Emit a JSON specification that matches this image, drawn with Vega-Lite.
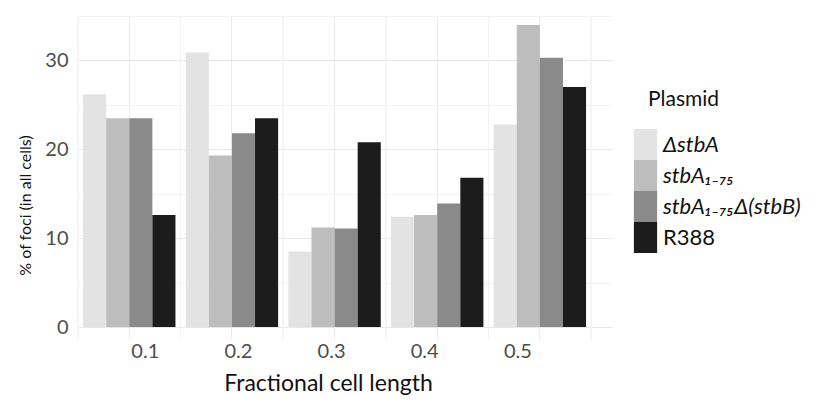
{
  "$schema": "https://vega.github.io/schema/vega-lite/v6.json",
  "width": 535,
  "height": 324,
  "autosize": {"type": "none"},
  "padding": {"left": 77, "top": 16, "right": 208, "bottom": 68},
  "background": "white",
  "config": {
    "view": {"stroke": null},
    "font": "Lato",
    "axis": {"domain": false, "ticks": false}
  },
  "data": {
    "values": [
      {"length": "0.1", "plasmid": "ΔstbA", "pct": 26.2},
      {"length": "0.1", "plasmid": "stbA₁₋₇₅", "pct": 23.5},
      {"length": "0.1", "plasmid": "stbA₁₋₇₅Δ(stbB)", "pct": 23.5},
      {"length": "0.1", "plasmid": "R388", "pct": 12.6},
      {"length": "0.2", "plasmid": "ΔstbA", "pct": 30.9},
      {"length": "0.2", "plasmid": "stbA₁₋₇₅", "pct": 19.3},
      {"length": "0.2", "plasmid": "stbA₁₋₇₅Δ(stbB)", "pct": 21.8},
      {"length": "0.2", "plasmid": "R388", "pct": 23.5},
      {"length": "0.3", "plasmid": "ΔstbA", "pct": 8.5},
      {"length": "0.3", "plasmid": "stbA₁₋₇₅", "pct": 11.2},
      {"length": "0.3", "plasmid": "stbA₁₋₇₅Δ(stbB)", "pct": 11.1},
      {"length": "0.3", "plasmid": "R388", "pct": 20.8},
      {"length": "0.4", "plasmid": "ΔstbA", "pct": 12.4},
      {"length": "0.4", "plasmid": "stbA₁₋₇₅", "pct": 12.6},
      {"length": "0.4", "plasmid": "stbA₁₋₇₅Δ(stbB)", "pct": 13.9},
      {"length": "0.4", "plasmid": "R388", "pct": 16.8},
      {"length": "0.5", "plasmid": "ΔstbA", "pct": 22.8},
      {"length": "0.5", "plasmid": "stbA₁₋₇₅", "pct": 34.0},
      {"length": "0.5", "plasmid": "stbA₁₋₇₅Δ(stbB)", "pct": 30.3},
      {"length": "0.5", "plasmid": "R388", "pct": 27.0}
    ]
  },
  "layer": [
    {
      "mark": {"type": "rule", "color": "#f3f3f3", "strokeWidth": 1},
      "encoding": {
        "x": {"field": "length", "type": "nominal", "bandPosition": -0.056}
      }
    },
    {
      "transform": [{"filter": "datum.length === '0.5'"}],
      "mark": {"type": "rule", "color": "#f3f3f3", "strokeWidth": 1},
      "encoding": {
        "x": {"field": "length", "type": "nominal", "bandPosition": 1.056}
      }
    },
    {
      "mark": {"type": "bar"},
      "encoding": {
        "x": {
          "field": "length",
          "type": "nominal",
          "sort": ["0.1", "0.2", "0.3", "0.4", "0.5"],
          "scale": {"paddingInner": 0.1, "paddingOuter": 0.156, "align": 0.19},
          "axis": {
            "title": "Fractional cell length",
            "titleFontSize": 23,
            "titleFontWeight": "normal",
            "titleColor": "#111111",
            "titleX": 251,
            "titlePadding": 11,
            "labelAngle": 0,
            "labelAlign": "center",
            "labelFontSize": 20,
            "labelColor": "#4d4d4d",
            "labelPadding": 11,
            "labelOffset": {"expr": "16 - (toNumber(datum.value) * 10 - 1) * 9.5"},
            "grid": true,
            "gridColor": "#ececec",
            "gridWidth": 1
          }
        },
        "xOffset": {
          "field": "plasmid",
          "type": "nominal",
          "sort": ["ΔstbA", "stbA₁₋₇₅", "stbA₁₋₇₅Δ(stbB)", "R388"],
          "scale": {"paddingInner": 0, "paddingOuter": 0}
        },
        "y": {
          "field": "pct",
          "type": "quantitative",
          "scale": {"domain": [-1.46, 35], "nice": false, "zero": false},
          "axis": {
            "title": "% of foci (in all cells)",
            "titleFontSize": 16,
            "titleFontWeight": "normal",
            "titleColor": "#111111",
            "titleX": -52,
            "titleY": 189,
            "titleAlign": "center",
            "titleBaseline": "middle",
            "values": [0, 5, 10, 15, 20, 25, 30, 35],
            "labelExpr": "datum.value % 10 === 0 ? datum.label : ''",
            "labelFontSize": 20,
            "labelColor": "#4d4d4d",
            "labelPadding": 9,
            "grid": true,
            "gridColor": {"condition": {"test": "datum.value % 10 === 0", "value": "#e8e8e8"}, "value": "#f3f3f3"},
            "gridWidth": 1
          }
        },
        "color": {
          "field": "plasmid",
          "type": "nominal",
          "sort": ["ΔstbA", "stbA₁₋₇₅", "stbA₁₋₇₅Δ(stbB)", "R388"],
          "scale": {
            "domain": ["ΔstbA", "stbA₁₋₇₅", "stbA₁₋₇₅Δ(stbB)", "R388"],
            "range": ["#e3e3e3", "#bdbdbd", "#8a8a8a", "#1c1c1c"]
          },
          "legend": {
            "title": "Plasmid",
            "orient": "none",
            "legendX": 553,
            "legendY": 73,
            "padding": 0,
            "titleFontSize": 21,
            "titleFontWeight": "normal",
            "titleColor": "#111111",
            "titlePadding": 19,
            "labelFontSize": 22,
            "labelColor": "#111111",
            "labelOffset": 2,
            "labelLimit": 250,
            "rowPadding": 0,
            "symbolType": "M-0.75,-1H0.75V1H-0.75Z",
            "symbolSize": 961,
            "symbolStrokeWidth": 0,
            "symbolOpacity": 1,
            "encode": {
              "title": {"update": {"dx": {"value": 18}}},
              "labels": {
                "update": {
                  "fontStyle": {"signal": "datum.value === 'R388' ? 'normal' : 'italic'"}
                }
              }
            }
          }
        }
      }
    }
  ]
}
